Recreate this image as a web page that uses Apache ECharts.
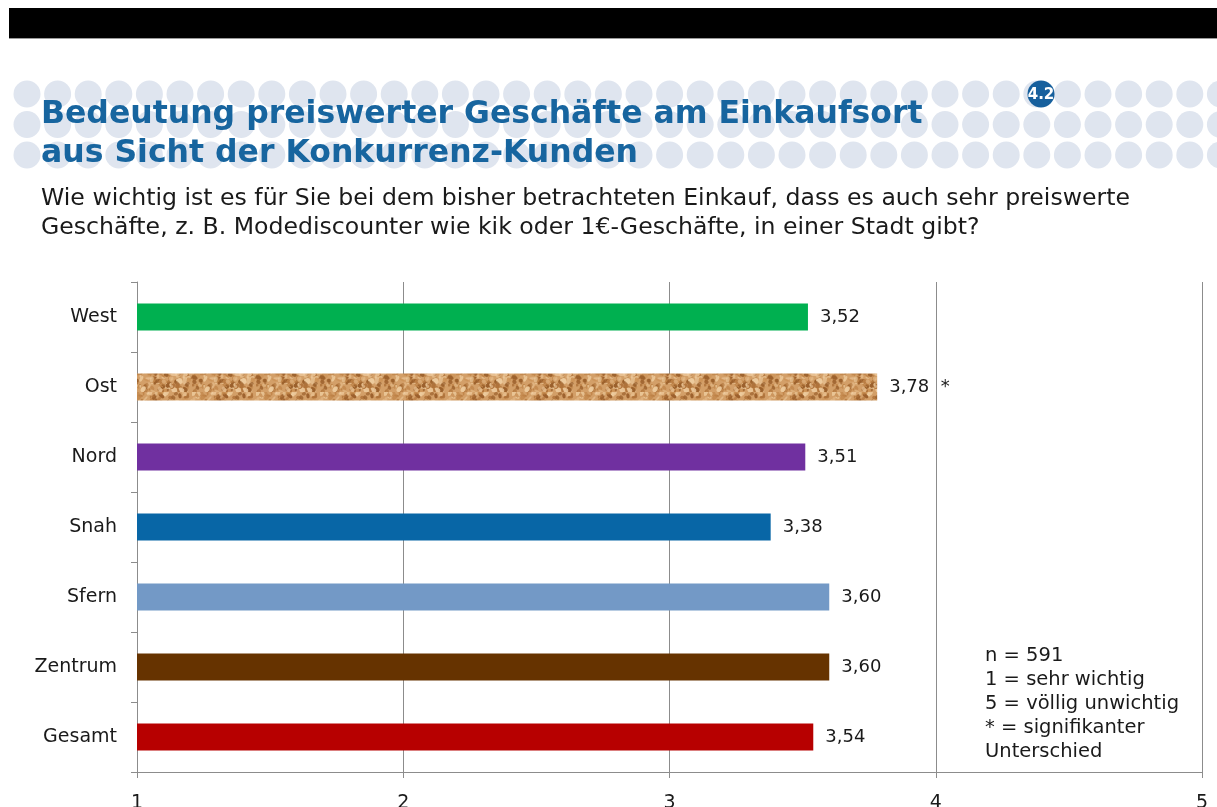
<!DOCTYPE html>
<html>
<head>
<meta charset="utf-8">
<title>Bedeutung preiswerter Geschäfte am Einkaufsort</title>
<script src="https://cdn.jsdelivr.net/npm/echarts@6/dist/echarts.min.js"></script>
<style>
  html, body { margin: 0; padding: 0; background: #fff; }
  #chart { width: 1217px; height: 807px; }
</style>
</head>
<body>
<div id="chart"></div>
<script>
// Regions (top to bottom) and their mean ratings on a 1..5 scale
const categories = ['West', 'Ost', 'Nord', 'Snah', 'Sfern', 'Zentrum', 'Gesamt'];
const values = [3.52, 3.78, 3.51, 3.38, 3.60, 3.60, 3.54];
const significant = [false, true, false, false, false, false, false];
const xTicks = [1, 2, 3, 4, 5];
const noteLines = ['n = 591', '1 = sehr wichtig', '5 = völlig unwichtig', '* = signifikanter', 'Unterschied'];

const FONT = '"DejaVu Sans", Verdana, sans-serif';

// Cork-like fill: a small tile of deterministic blotches
function corkPattern() {
  const c = document.createElement('canvas');
  c.width = 64; c.height = 28;
  const g = c.getContext('2d');
  g.fillStyle = '#d39f68';
  g.fillRect(0, 0, c.width, c.height);
  const hash = (i, k) => {
    const s = Math.sin(i * 12.9898 + k * 78.233) * 43758.5453;
    return s - Math.floor(s);
  };
  const tones = ['#c08448', '#e6bd8c', '#b0733a', '#edcb9e', '#cc9357', '#9a5f2b'];
  for (let i = 0; i < 170; i++) {
    g.fillStyle = tones[Math.floor(hash(i, 1) * tones.length)];
    g.globalAlpha = 0.55 + hash(i, 5) * 0.45;
    const x = hash(i, 2) * c.width;
    const y = hash(i, 3) * c.height;
    const rx = 1 + hash(i, 4) * 2.6;
    const ry = 0.8 + hash(i, 6) * 1.8;
    g.beginPath();
    g.ellipse(x, y, rx, ry, hash(i, 7) * Math.PI, 0, Math.PI * 2);
    g.fill();
  }
  g.globalAlpha = 1;
  return c;
}

const barColors = ['#00b050', { image: corkPattern(), repeat: 'repeat' }, '#7030a0', '#0866a6', '#7399c6', '#663300', '#b70000'];

const fmt = v => v.toFixed(2).replace('.', ',');

// Header decoration: rows of pale dots behind the title
const dots = [];
for (let r = 0; r < 3; r++) {
  for (let i = 0; i < 40; i++) {
    dots.push({
      type: 'circle',
      shape: { cx: 27 + i * 30.6, cy: 94 + r * 30.5, r: 13.5 },
      style: { fill: '#dfe5ef' },
      silent: true
    });
  }
}

const chart = echarts.init(document.getElementById('chart'), null, { renderer: 'canvas' });

chart.setOption({
  backgroundColor: '#ffffff',
  animation: false,
  graphic: [
    { type: 'rect', shape: { x: 9, y: 8, width: 1208, height: 30 }, style: { fill: '#000' }, silent: true },
    { type: 'rect', shape: { x: 9, y: 38, width: 1208, height: 1 }, style: { fill: '#9a9a9a' }, silent: true },
    ...dots,
    { type: 'circle', shape: { cx: 1041, cy: 94, r: 13.5 }, style: { fill: '#17609d' }, silent: true },
    { type: 'text', style: { x: 1041, y: 95, text: '4.2', fill: '#ffffff', font: 'bold 15px ' + FONT, align: 'center', verticalAlign: 'middle' }, silent: true },
    { type: 'text', left: 41, top: 99, style: { text: 'Bedeutung preiswerter Geschäfte am Einkaufsort', fill: '#17659f', font: 'bold 31.5px ' + FONT }, silent: true },
    { type: 'text', left: 41, top: 138, style: { text: 'aus Sicht der Konkurrenz-Kunden', fill: '#17659f', font: 'bold 31.5px ' + FONT }, silent: true },
    { type: 'text', left: 41, top: 187, style: { text: 'Wie wichtig ist es für Sie bei dem bisher betrachteten Einkauf, dass es auch sehr preiswerte', fill: '#1a1a1a', font: '23.6px ' + FONT }, silent: true },
    { type: 'text', left: 41, top: 216, style: { text: 'Geschäfte, z. B. Modediscounter wie kik oder 1€-Geschäfte, in einer Stadt gibt?', fill: '#1a1a1a', font: '23.6px ' + FONT }, silent: true },
    { type: 'text', left: 985, top: 644, style: { text: noteLines.join('\n'), fill: '#1a1a1a', font: '19.5px ' + FONT, lineHeight: 24 }, silent: true }
  ],
  grid: { left: 137, right: 15, top: 282, bottom: 35, containLabel: false, outerBoundsMode: 'none' },
  xAxis: {
    type: 'value',
    min: 1, max: 5, interval: 1,
    axisLine: { show: true, lineStyle: { color: '#8c8c8c', width: 1 } },
    axisTick: { show: true, length: 6, lineStyle: { color: '#8c8c8c' } },
    splitLine: { show: true, lineStyle: { color: '#8c8c8c', width: 1 } },
    axisLabel: {
      margin: 22, color: '#1a1a1a', fontFamily: FONT, fontSize: 19,
      formatter: v => xTicks.includes(v) ? String(v) : ''
    }
  },
  yAxis: {
    type: 'category',
    inverse: true,
    data: categories,
    axisLine: { show: true, lineStyle: { color: '#8c8c8c', width: 1 } },
    axisTick: { show: true, length: 6, alignWithLabel: false, lineStyle: { color: '#8c8c8c' } },
    axisLabel: { margin: 20, color: '#1a1a1a', fontFamily: FONT, fontSize: 19 }
  },
  series: [{
    type: 'bar',
    barWidth: 27,
    data: values.map((v, i) => ({ value: v, itemStyle: { color: barColors[i] } })),
    label: {
      show: true,
      position: 'right',
      distance: 12,
      color: '#1a1a1a',
      fontFamily: FONT,
      fontSize: 18,
      formatter: p => fmt(p.value) + (significant[p.dataIndex] ? '  *' : '')
    }
  }]
});
</script>
</body>
</html>
